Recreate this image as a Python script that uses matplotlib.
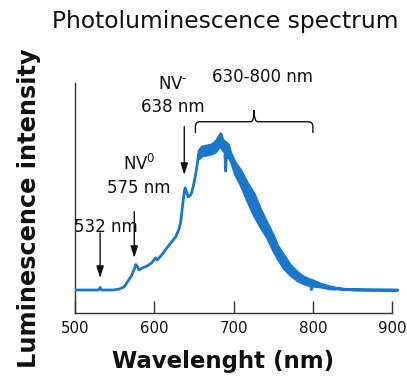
import matplotlib
matplotlib.use("Agg")
import matplotlib.pyplot as plt
from matplotlib.path import Path
from matplotlib.patches import PathPatch

# --- spectrum data (wavelength in nm, intensity in arbitrary units) ---
# Smooth part of the spectrum, below the broad phonon sideband
wl_smooth = [502, 525, 530, 532, 534, 548, 556, 562, 568, 572, 575.5, 577, 579,
             581, 585, 590, 596, 600, 602, 604, 610, 616, 622, 627, 631, 633.5,
             635.5, 637.5, 639, 640, 643, 645, 647, 650, 652, 654, 656]
int_smooth = [0.0, 0.0, 0.0, 0.016, 0.0, 0.0, 0.006, 0.019, 0.063, 0.095, 0.139,
              0.161, 0.146, 0.127, 0.139, 0.149, 0.168, 0.190, 0.203, 0.190,
              0.225, 0.266, 0.304, 0.335, 0.380, 0.430, 0.519, 0.601, 0.646,
              0.633, 0.589, 0.595, 0.611, 0.671, 0.722, 0.785, 0.858]

# Noisy sideband: upper and lower envelope of the measured signal
wl_band = [656, 660, 666, 672, 677, 681, 683.5, 686, 688.5, 689.5, 690.5, 693,
           696, 702, 708.5, 717, 725, 734, 742, 750, 755, 763, 771.5, 780, 788,
           796.7, 797.5, 798.5, 809, 822, 835, 850, 870, 906]
int_band_hi = [0.884, 0.909, 0.915, 0.922, 0.941, 0.972, 0.993, 0.953, 0.941,
               0.934, 0.934, 0.922, 0.870, 0.806, 0.761, 0.679, 0.616, 0.508,
               0.426, 0.345, 0.283, 0.222, 0.158, 0.115, 0.085, 0.066, 0.066,
               0.064, 0.041, 0.022, 0.009, 0.004, 0.003, 0.002]
int_band_lo = [0.832, 0.851, 0.857, 0.863, 0.876, 0.901, 0.914, 0.889, 0.876,
               0.756, 0.857, 0.844, 0.820, 0.732, 0.669, 0.568, 0.479, 0.397,
               0.334, 0.250, 0.204, 0.139, 0.095, 0.062, 0.042, 0.028, 0.006,
               0.027, 0.022, 0.009, 0.009, 0.004, 0.003, 0.002]

x_ticks = [500, 600, 700, 800, 900]

# Marked emission lines: label, wavelength, arrow tail and tip heights
line_labels = ["532 nm", "NV$^0$\n575 nm", "NV$^{\\text{-}}$\n638 nm"]
line_wl = [532, 575, 638]
arrow_tail = [0.361, 0.496, 1.034]
arrow_tip = [0.076, 0.203, 0.728]
label_x = [539, 581, 624]
label_y = [0.367, 0.614, 1.127]

# Brace over the broad sideband
brace_start, brace_end, brace_mid = 652, 800, 726
brace_label = "630-800 nm"

BLUE = "#1a77cc"
INK = "#111111"

fig = plt.figure(figsize=(4.07, 3.76), dpi=100)
ax = fig.add_axes([74.7 / 407, 63 / 376, 317.6 / 407, 230 / 376])
ax.set_xlim(500, 900)
ax.set_ylim(-0.1456, 1.310)

ax.fill_between(wl_band, int_band_lo, int_band_hi, color=BLUE, lw=2.0,
                edgecolor=BLUE, clip_on=False, zorder=3)
ax.plot(wl_smooth, int_smooth, color=BLUE, lw=2.0, clip_on=False,
        solid_joinstyle="round", zorder=3)

for s in ("top", "right"):
    ax.spines[s].set_visible(False)
for s in ("left", "bottom"):
    ax.spines[s].set_color("#333333")
    ax.spines[s].set_linewidth(1.0)
ax.set_yticks([])
ax.set_xticks(x_ticks)
ax.tick_params(axis="x", direction="in", length=8.3, width=1.0,
               color="#333333", pad=5.5, labelsize=10.8, labelcolor=INK)

# Arrows and labels for the individual lines
for lab, wl, t0, t1, lx, ly in zip(line_labels, line_wl, arrow_tail,
                                   arrow_tip, label_x, label_y):
    ax.annotate("", xy=(wl, t1), xytext=(wl, t0),
                arrowprops=dict(arrowstyle="-|>,head_length=0.7,head_width=0.22",
                                color=INK, lw=1.0, mutation_scale=10,
                                shrinkA=0, shrinkB=0))
    ax.text(lx, ly, lab, ha="center", va="baseline", fontsize=12, color=INK,
            linespacing=1.38)

# Curly brace
yb, ym, yt = 0.994, 1.065, 1.139
rx, ry, rm = 6.0, 0.030, 4.5
verts = [(brace_start, yb), (brace_start, ym - ry),
         (brace_start, ym), (brace_start + rx, ym),
         (brace_mid - rm, ym),
         (brace_mid, ym), (brace_mid, yt),
         (brace_mid, ym), (brace_mid + rm, ym),
         (brace_end - rx, ym),
         (brace_end, ym), (brace_end, ym - ry),
         (brace_end, yb)]
codes = [Path.MOVETO, Path.LINETO,
         Path.CURVE3, Path.CURVE3,
         Path.LINETO,
         Path.CURVE3, Path.CURVE3,
         Path.CURVE3, Path.CURVE3,
         Path.LINETO,
         Path.CURVE3, Path.CURVE3,
         Path.LINETO]
ax.add_patch(PathPatch(Path(verts, codes), facecolor="none", edgecolor=INK,
                       lw=1.0, clip_on=False))
ax.text(736, 1.316, brace_label, ha="center", va="baseline", fontsize=12,
        color=INK)

fig.text(225.5 / 407, 1 - 28.3 / 376, "Photoluminescence spectrum",
         ha="center", va="baseline", fontsize=16.8, color=INK)
fig.text(223.5 / 407, 1 - 368 / 376, "Wavelenght (nm)", ha="center",
         va="baseline", fontsize=16.5, fontweight="bold", color=INK)
fig.text(29 / 407, 1 - 208 / 376, "Luminescence intensity", rotation=90,
         ha="center", va="center", fontsize=17.3, fontweight="bold", color=INK)

fig.savefig("out.png", dpi=100, facecolor="white")
